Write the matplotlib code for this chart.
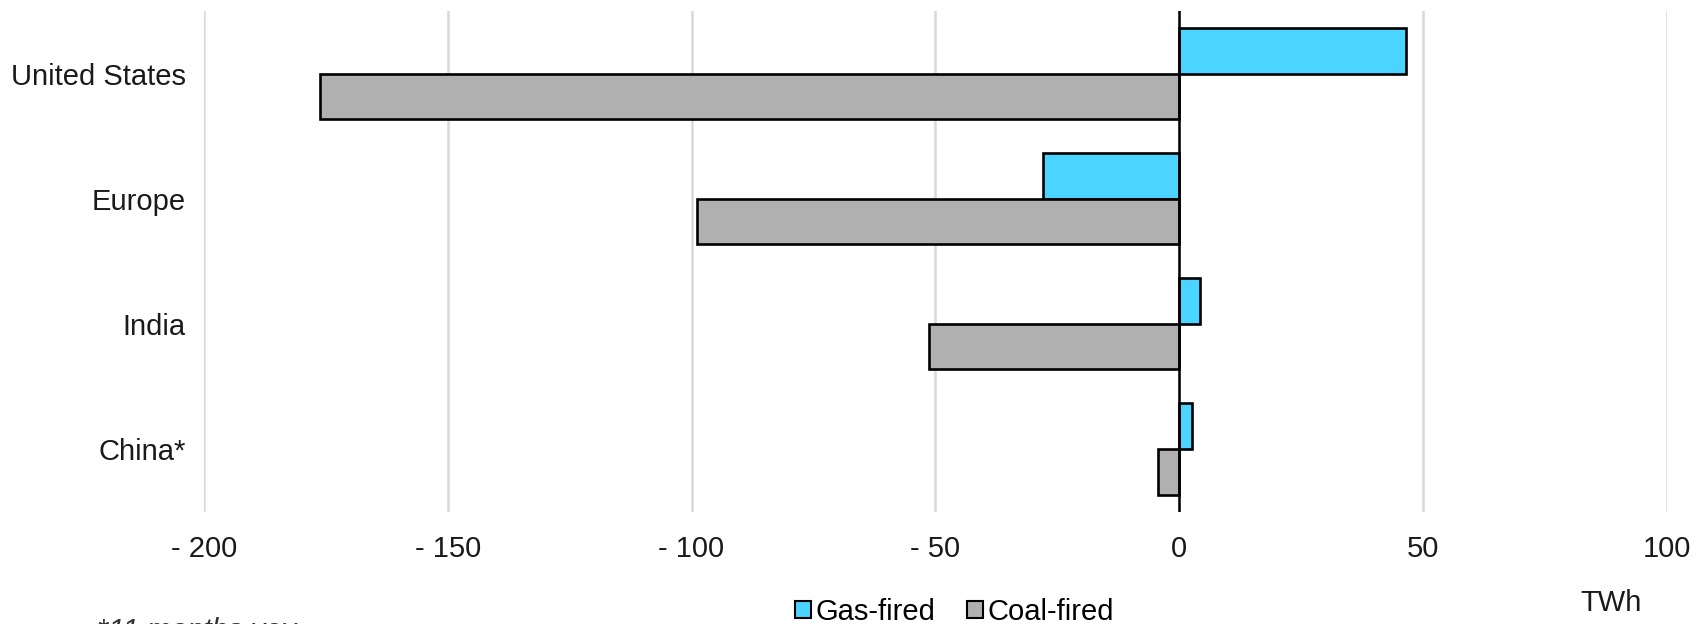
import matplotlib
matplotlib.use("Agg")
import matplotlib.pyplot as plt
import numpy as np
from matplotlib.patches import Patch

categories = ["United States", "Europe", "India", "China*"]
gas_fired = [46.5, -27.9, 4.2, 2.7]
coal_fired = [-176.3, -98.8, -51.3, -4.4]
x_ticks = [-200, -150, -100, -50, 0, 50, 100]
x_tick_labels = ["- 200", "- 150", "- 100", "- 50", "0", "50", "100"]

GAS = "#4AD4FF"
COAL = "#B0B0B0"

plt.rcParams['font.family'] = ['Liberation Sans', 'DejaVu Sans']

fig = plt.figure(figsize=(16.98, 6.24), dpi=100)
ax = fig.add_axes([204/1698, 1-511.6/624, (1666.6-204)/1698, (511.6-11)/624])

y = np.arange(len(categories))
h = 0.364
ax.barh(y - h/2, gas_fired, height=h, color=GAS, edgecolor="black", linewidth=1.9, zorder=3)
ax.barh(y + h/2, coal_fired, height=h, color=COAL, edgecolor="black", linewidth=1.9, zorder=3)
ax.axvline(0, color="black", linewidth=1.8, zorder=4)

ax.set_xlim(-200, 100)
ax.set_ylim(3.5, -0.5)
ax.set_xticks(x_ticks)
ax.set_xticklabels(x_tick_labels)
ax.set_yticks(y)
ax.set_yticklabels(categories)
ax.tick_params(axis="x", length=0, pad=17, labelsize=21)
ax.tick_params(axis="y", length=0, pad=13, labelsize=21)
for lab in ax.get_xticklabels() + ax.get_yticklabels():
    lab.set_color("#1a1a1a")
ax.grid(axis="x", color="#D9D9D9", linewidth=1.8, zorder=0)
ax.set_axisbelow(True)
for s in ax.spines.values():
    s.set_visible(False)

handles = [Patch(facecolor=GAS, edgecolor="black", linewidth=1.5, label="Gas-fired"),
           Patch(facecolor=COAL, edgecolor="black", linewidth=1.5, label="Coal-fired")]
fig.legend(handles=handles, loc="center", bbox_to_anchor=(954.5/1698, 1-612/624), ncol=2,
           frameon=False, fontsize=21, handlelength=0.55, handleheight=0.55,
           handletextpad=0.15, columnspacing=1.1, borderpad=0, borderaxespad=0)

fig.text(1611/1698, 1-603/624, "TWh", ha="center", va="center", fontsize=21, color="#1a1a1a")
fig.text(97/1698, 1-617/624, "*11 months yoy", ha="left", va="top", fontsize=21,
         style="italic", color="#333333")

fig.savefig("out.png", dpi=100)
